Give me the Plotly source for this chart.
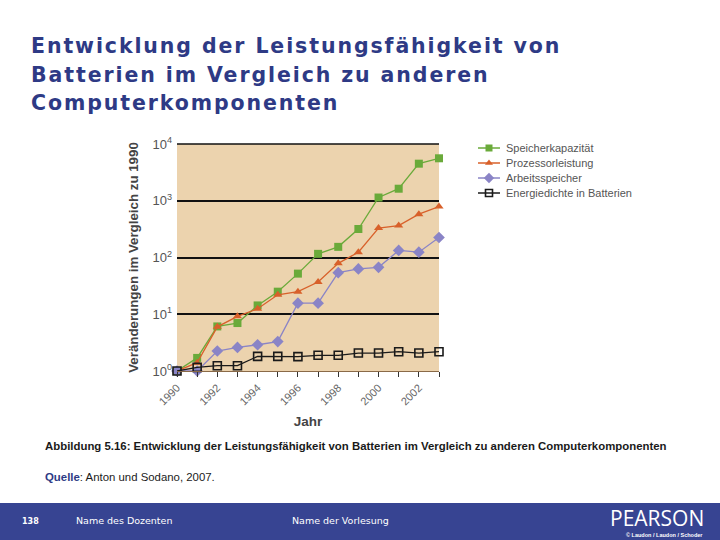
import plotly.graph_objects as go

years = list(range(1990, 2004))
speicherkapazitaet = [1, 1.7, 6.1, 7.0, 14.3, 25, 52, 116, 154, 318, 1140, 1630, 4500, 5600]
prozessorleistung = [1, 1.4, 6.0, 9.2, 12.5, 22, 25, 37, 79, 124, 330, 365, 580, 790]
arbeitsspeicher = [1, 1.0, 2.25, 2.6, 2.9, 3.3, 15.7, 15.7, 54, 63, 67, 133, 124, 225]
energiedichte = [1, 1.16, 1.24, 1.24, 1.81, 1.81, 1.79, 1.89, 1.89, 2.07, 2.07, 2.19, 2.07, 2.19]

x_labels = [str(y) if y % 2 == 0 else "" for y in years]
y_vals = [1, 10, 100, 1000, 10000]
y_labels = ["10<sup>0</sup>", "10<sup>1</sup>", "10<sup>2</sup>", "10<sup>3</sup>", "10<sup>4</sup>"]

title_lines = ["Entwicklung der Leistungsfähigkeit von",
               "Batterien im Vergleich zu anderen",
               "Computerkomponenten"]

# figure and plot area in pixels
W, H = 720, 540
L, R, T, B = 177, 439, 144, 371


def fx(x):
    return x / W


def fy(y):
    return 1 - y / H


series = [
    ("Speicherkapazität", speicherkapazitaet, "#6aaa3a", dict(symbol="square", size=8, color="#6aaa3a")),
    ("Prozessorleistung", prozessorleistung, "#d8602a", dict(symbol="triangle-up", size=8, color="#d8602a")),
    ("Arbeitsspeicher", arbeitsspeicher, "#8a84c6", dict(symbol="diamond", size=9, color="#8a84c6")),
    ("Energiedichte in Batterien", energiedichte, "#1a1a1a",
     dict(symbol="square-open", size=8, color="#1a1a1a", line=dict(width=1.6))),
]

data = [go.Scatter(x=years, y=vals, mode="lines+markers", name=name,
                   line=dict(color=col, width=1.3), marker=mk, cliponaxis=False)
        for name, vals, col, mk in series]

# hand-drawn legend on a pixel overlay axis
annotations = []
for i, (name, vals, col, mk) in enumerate(series):
    ly = 148 + 15 * i
    data.append(go.Scatter(x=[478, 500], y=[ly, ly], mode="lines", xaxis="x2", yaxis="y2",
                           line=dict(color=col, width=1.5), hoverinfo="skip"))
    small = dict(mk)
    small["size"] = mk["size"] - 1
    data.append(go.Scatter(x=[489], y=[ly], mode="markers", xaxis="x2", yaxis="y2",
                           marker=small, hoverinfo="skip"))
    annotations.append(dict(text=name, xref="paper", yref="paper", x=fx(504), y=fy(ly),
                            xanchor="left", yanchor="middle", showarrow=False,
                            font=dict(size=11, color="#555555")))

for i, line in enumerate(title_lines):
    annotations.append(dict(
        text="<b><span style='letter-spacing:1.9px'>%s</span></b>" % line,
        xref="paper", yref="paper", x=fx(29), y=fy(46 + 28.5 * i),
        xanchor="left", yanchor="middle", showarrow=False,
        font=dict(family="DejaVu Sans, Verdana, sans-serif", size=20.5, color="#2e3a85")))

annotations += [
    dict(text="<b>Abbildung 5.16: Entwicklung der Leistungsfähigkeit von Batterien im Vergleich zu anderen Computerkomponenten</b>",
         xref="paper", yref="paper", x=fx(43), y=fy(446), xanchor="left", yanchor="middle",
         showarrow=False,
         font=dict(family="Liberation Sans, Arial, sans-serif", size=11.4, color="#1a1a1a")),
    dict(text="<b><span style='color:#2e3a85'>Quelle</span></b>: Anton und Sodano, 2007.",
         xref="paper", yref="paper", x=fx(43), y=fy(477), xanchor="left", yanchor="middle",
         showarrow=False,
         font=dict(family="Liberation Sans, Arial, sans-serif", size=11.4, color="#1a1a1a")),
    dict(text="<b>138</b>", xref="paper", yref="paper", x=fx(20), y=fy(521),
         xanchor="left", yanchor="middle", showarrow=False,
         font=dict(family="DejaVu Sans, sans-serif", size=8, color="white")),
    dict(text="Name des Dozenten", xref="paper", yref="paper", x=fx(74), y=fy(520),
         xanchor="left", yanchor="middle", showarrow=False,
         font=dict(family="DejaVu Sans, sans-serif", size=9.5, color="white")),
    dict(text="Name der Vorlesung", xref="paper", yref="paper", x=fx(290), y=fy(520),
         xanchor="left", yanchor="middle", showarrow=False,
         font=dict(family="DejaVu Sans, sans-serif", size=9.5, color="white")),
    dict(text="PEARSON", xref="paper", yref="paper", x=fx(706), y=fy(518),
         xanchor="right", yanchor="middle", showarrow=False,
         font=dict(family="Open Sans, sans-serif", size=21, color="white")),
    dict(text="<b>© Laudon / Laudon / Schoder</b>", xref="paper", yref="paper", x=fx(705), y=fy(535),
         xanchor="right", yanchor="middle", showarrow=False,
         font=dict(family="Liberation Sans, sans-serif", size=5.5, color="white")),
]

layout = go.Layout(
    width=W, height=H,
    margin=dict(l=0, r=0, t=0, b=0, autoexpand=False),
    showlegend=False,
    paper_bgcolor="white",
    plot_bgcolor="rgba(0,0,0,0)",
    font=dict(family="Liberation Sans, Arial, sans-serif", color="#555555"),
    xaxis=dict(domain=[fx(L), fx(R)], range=[1990, 2003], tickvals=years, ticktext=x_labels,
               tickangle=-45, ticks="outside", ticklen=5, tickcolor="#333333", tickwidth=1.3,
               showline=True, linecolor="#8a6a48", linewidth=1.3, automargin=False,
               showgrid=False, zeroline=False, tickfont=dict(size=11, color="#666666"),
               title=dict(text="<b>Jahr</b>", font=dict(size=13.5, color="#444444"), standoff=10)),
    yaxis=dict(domain=[fy(B), fy(T)], type="log", range=[0, 4], tickvals=y_vals, ticktext=y_labels,
               showgrid=True, gridcolor="#111111", gridwidth=1.6, zeroline=False,
               ticks="", tickfont=dict(size=13, color="#555555"), automargin=False,
               ticklabelstandoff=4,
               title=dict(text="<b>Veränderungen im Vergleich zu 1990</b>",
                          font=dict(size=13.3, color="#444444"), standoff=10)),
    xaxis2=dict(domain=[0, 1], range=[0, W], visible=False, fixedrange=True, anchor="y2"),
    yaxis2=dict(domain=[0, 1], range=[H, 0], visible=False, fixedrange=True, anchor="x2"),
    shapes=[
        dict(type="rect", xref="x domain", yref="y domain", x0=0, x1=1, y0=0, y1=1,
             fillcolor="#ecd3ae", line=dict(width=0), layer="below"),
        dict(type="line", xref="x domain", yref="y domain", x0=0, x1=1, y0=1, y1=1,
             line=dict(color="#111111", width=1.6), layer="above"),
        dict(type="rect", xref="paper", yref="paper", x0=0, x1=1, y0=0, y1=fy(503),
             fillcolor="#374492", line=dict(width=0), layer="above"),
    ],
    annotations=annotations,
)

fig = go.Figure(data=data, layout=layout)
fig.write_html("out.html", config={"displayModeBar": False},
               post_script="document.body.style.margin='0';")
